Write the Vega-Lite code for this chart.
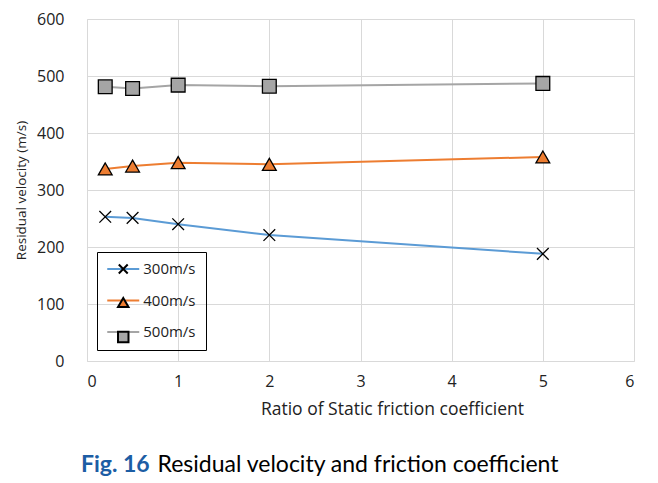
{
  "$schema": "https://vega.github.io/schema/vega-lite/v6.json",
  "width": 547,
  "height": 342,
  "autosize": {"type": "none"},
  "padding": {"left": 87, "top": 19, "right": 24, "bottom": 122},
  "background": "white",
  "config": {
    "view": {"stroke": null},
    "font": "Open Sans"
  },
  "title": {
    "text": "Fig. 16",
    "subtitle": "\u200b\u00a0\u00a0\u00a0\u00a0\u00a0\u00a0\u00a0\u00a0\u00a0\u00a0\u00a0\u00a0\u00a0Residual velocity and friction coefficient",
    "orient": "bottom",
    "anchor": "start",
    "frame": "group",
    "font": "Lato",
    "fontSize": 23,
    "fontWeight": "bold",
    "color": "#1C5DA4",
    "subtitleFont": "Lato",
    "subtitleFontSize": 23,
    "subtitleFontWeight": "normal",
    "subtitleColor": "black",
    "subtitlePadding": -23,
    "offset": 36,
    "dx": -6
  },
  "data": {
    "values": [
      {"x": 0.2, "v": 253, "series": "300m/s", "marker": "300m/s"},
      {"x": 0.5, "v": 251, "series": "300m/s", "marker": "300m/s"},
      {"x": 1, "v": 240, "series": "300m/s", "marker": "300m/s"},
      {"x": 2, "v": 221, "series": "300m/s", "marker": "300m/s"},
      {"x": 5, "v": 188, "series": "300m/s", "marker": "300m/s"},
      {"x": 0.2, "v": 337, "series": "400m/s", "marker": "400m/s"},
      {"x": 0.5, "v": 342, "series": "400m/s", "marker": "400m/s"},
      {"x": 1, "v": 348, "series": "400m/s", "marker": "400m/s"},
      {"x": 2, "v": 345, "series": "400m/s", "marker": "400m/s"},
      {"x": 5, "v": 358, "series": "400m/s", "marker": "400m/s"},
      {"x": 0.2, "v": 481, "series": "500m/s", "marker": "500m/s"},
      {"x": 0.5, "v": 478, "series": "500m/s", "marker": "500m/s"},
      {"x": 1, "v": 484, "series": "500m/s", "marker": "500m/s"},
      {"x": 2, "v": 482, "series": "500m/s", "marker": "500m/s"},
      {"x": 5, "v": 487, "series": "500m/s", "marker": "500m/s"}
    ]
  },
  "encoding": {
    "x": {
      "field": "x",
      "type": "quantitative",
      "scale": {"domain": [0, 6], "nice": false, "zero": false},
      "axis": {
        "title": "Ratio of Static friction coefficient",
        "values": [0, 1, 2, 3, 4, 5, 6],
        "format": "d",
        "ticks": false,
        "labelPadding": 12,
        "labelFontSize": 16,
        "labelColor": "#222222",
        "labelFont": "Open Sans",
        "titleFont": "Open Sans",
        "titleFontSize": 17.5,
        "titleFontWeight": "normal",
        "titleColor": "#222222",
        "titlePadding": 11,
        "titleX": 305,
        "grid": true,
        "gridColor": "#D9D9D9",
        "gridWidth": 1,
        "domainColor": "#D9D9D9",
        "domainWidth": 1
      }
    },
    "y": {
      "field": "v",
      "type": "quantitative",
      "scale": {"domain": [0, 600], "nice": false},
      "axis": {
        "title": "Residual velocity (m/s)",
        "values": [0, 100, 200, 300, 400, 500, 600],
        "ticks": false,
        "labelPadding": 23,
        "labelFontSize": 16,
        "labelColor": "#222222",
        "labelFont": "Open Sans",
        "titleFont": "Open Sans",
        "titleFontSize": 13.5,
        "titleFontWeight": "normal",
        "titleColor": "#222222",
        "titlePadding": 8,
        "grid": true,
        "gridColor": "#D9D9D9",
        "gridWidth": 1,
        "domainColor": "#D9D9D9",
        "domainWidth": 1
      }
    }
  },
  "layer": [
    {
      "mark": {"type": "line", "strokeWidth": 2},
      "encoding": {
        "color": {
          "field": "series",
          "type": "nominal",
          "scale": {"domain": ["300m/s", "400m/s", "500m/s"], "range": ["#5B9BD5", "#ED7D31", "#A5A5A5"]},
          "legend": {
            "title": null,
            "orient": "none",
            "legendX": 10,
            "legendY": 233,
            "symbolType": "M-3.05,0H3.05",
            "symbolSize": 110,
            "symbolStrokeWidth": 2,
            "symbolOffset": 9.25,
            "labelFont": "Open Sans",
            "labelFontSize": 15,
            "labelColor": "#222222",
            "strokeColor": "black",
            "padding": 9.5,
            "rowPadding": 15.5,
            "labelOffset": 12.5
          }
        }
      }
    },
    {
      "mark": {"type": "point", "filled": true, "stroke": "black", "strokeWidth": 1.3, "opacity": 1, "size": 190},
      "encoding": {
        "shape": {
          "field": "marker",
          "type": "nominal",
          "scale": {"range": ["M-0.85,-0.85L0.85,0.85M-0.85,0.85L0.85,-0.85", "triangle-up", "square"]},
          "legend": {
            "title": null,
            "orient": "none",
            "legendX": 10,
            "legendY": 233,
            "symbolSize": 110,
            "symbolStrokeWidth": 2,
            "symbolOffset": 9.25,
            "labelFont": "Open Sans",
            "labelFontSize": 15,
            "labelOpacity": 0,
            "padding": 9.5,
            "rowPadding": 15.5,
            "labelOffset": 12.5,
            "encode": {"symbols": {"update": {"stroke": {"value": "black"}, "strokeWidth": {"value": 1.2}}}}
          }
        },
        "fill": {
          "field": "marker",
          "type": "nominal",
          "scale": {"range": ["#000000", "#ED7D31", "#A5A5A5"]},
          "legend": {
            "title": null,
            "orient": "none",
            "legendX": 10,
            "legendY": 233,
            "symbolSize": 110,
            "symbolStrokeWidth": 2,
            "symbolOffset": 9.25,
            "labelFont": "Open Sans",
            "labelFontSize": 15,
            "labelOpacity": 0,
            "padding": 9.5,
            "rowPadding": 15.5,
            "labelOffset": 12.5,
            "encode": {"symbols": {"update": {"stroke": {"value": "black"}, "strokeWidth": {"value": 1.2}}}}
          }
        }
      }
    }
  ]
}
